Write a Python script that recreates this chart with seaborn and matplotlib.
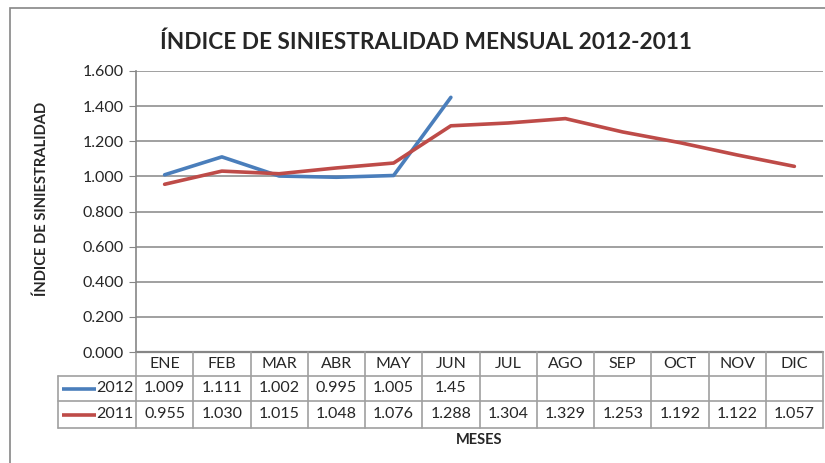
import numpy as np
import matplotlib
matplotlib.use("Agg")
import matplotlib.pyplot as plt
import matplotlib.transforms as mtransforms
from matplotlib.patches import Rectangle
import seaborn as sns
import pandas as pd

# ------------------------------------
# Data
# ------------------------------------
meses = ["ENE", "FEB", "MAR", "ABR", "MAY", "JUN",
         "JUL", "AGO", "SEP", "OCT", "NOV", "DIC"]
valores_2012 = [1.009, 1.111, 1.002, 0.995, 1.005, 1.45]
valores_2011 = [0.955, 1.030, 1.015, 1.048, 1.076, 1.288,
                1.304, 1.329, 1.253, 1.192, 1.122, 1.057]
etiquetas_2012 = ["1.009", "1.111", "1.002", "0.995", "1.005", "1.45"]
y_ticks = [0.0, 0.2, 0.4, 0.6, 0.8, 1.0, 1.2, 1.4, 1.6]

BLUE = "#4A7EBB"
RED = "#BE4B48"
GRID = "#868686"

sns.set_style("white")
plt.rcParams["font.family"] = ["Lato", "DejaVu Sans"]

W, H = 825, 463
fig = plt.figure(figsize=(W / 100, H / 100), dpi=100)

# outer chart border
fig.patches.append(Rectangle((10 / W, -0.05), (W + 20) / W, 1 - 8 / H + 0.05,
                             transform=fig.transFigure, fill=False,
                             edgecolor=GRID, linewidth=1.2))

left, right, top, bottom = 136, 823, 71, 352
ax = fig.add_axes([left / W, 1 - bottom / H, (right - left) / W, (bottom - top) / H])

df = pd.DataFrame({
    "x": list(range(len(valores_2012))) + list(range(len(valores_2011))),
    "valor": valores_2012 + valores_2011,
    "serie": ["2012"] * len(valores_2012) + ["2011"] * len(valores_2011),
})
sns.lineplot(data=df, x="x", y="valor", hue="serie",
             palette={"2012": BLUE, "2011": RED}, linewidth=2.6,
             legend=False, ax=ax, zorder=3)

FS = 11.5
ph = bottom - top

ax.set_xlim(-0.5, len(meses) - 0.5)
ax.set_ylim(0, 1.6)
ax.set_yticks(y_ticks)
ax.set_yticklabels([f"{v:.3f}" for v in y_ticks], fontsize=FS)
ax.set_xticks([])
ax.set_xlabel("")
ax.set_ylabel("ÍNDICE DE SINIESTRALIDAD", fontsize=10.6, fontweight="bold")
ax.yaxis.set_label_coords((49 - left) / (right - left), (bottom - 199) / ph)
ax.yaxis.grid(True, color=GRID, linewidth=1.1)
for s in ["top", "right", "bottom"]:
    ax.spines[s].set_visible(False)
ax.spines["left"].set_color(GRID)
ax.spines["left"].set_linewidth(1.2)
ax.tick_params(axis="y", length=5, color=GRID, pad=4, left=True)

# ------------------------------------
# Data table below the axes
# ------------------------------------
rows = [0, -24 / ph, -49 / ph, -76 / ph]
tr = mtransforms.blended_transform_factory(ax.transData, ax.transAxes)
leg_x = -78 / (right - left)
n = len(meses)
lc = "#A0A0A0"
lw = 1.2

# horizontal lines
ax.plot([-0.5, n - 0.5], [rows[0]] * 2, transform=tr, color=GRID, lw=1.6, clip_on=False)
for r in rows[1:]:
    ax.plot([leg_x, 1], [r, r], transform=ax.transAxes, color=lc, lw=lw, clip_on=False)
# vertical lines
for i in range(n + 1):
    ax.plot([i - 0.5, i - 0.5], [rows[0], rows[3]], transform=tr, color=lc, lw=lw, clip_on=False)
ax.plot([leg_x, leg_x], [rows[1], rows[3]], transform=ax.transAxes, color=lc, lw=lw, clip_on=False)


def mid(a, b):
    return (a + b) / 2


for i, m in enumerate(meses):
    ax.text(i, mid(rows[0], rows[1]), m, transform=tr, ha="center", va="center", fontsize=FS)
for i, v in enumerate(etiquetas_2012):
    ax.text(i, mid(rows[1], rows[2]), v, transform=tr, ha="center", va="center", fontsize=FS)
for i, v in enumerate(valores_2011):
    ax.text(i, mid(rows[2], rows[3]), f"{v:.3f}", transform=tr, ha="center", va="center", fontsize=FS)

# legend keys inside table
for r0, r1, name, col in [(rows[1], rows[2], "2012", BLUE), (rows[2], rows[3], "2011", RED)]:
    ym = mid(r0, r1)
    ax.plot([leg_x + 0.006, leg_x + 0.055], [ym, ym], transform=ax.transAxes,
            color=col, lw=2.6, clip_on=False, solid_capstyle="butt")
    ax.text(-0.004, ym, name, transform=ax.transAxes, ha="right", va="center", fontsize=FS)

# axis title and chart title
fig.text((left + right) / 2 / W, 1 - 440 / H, "MESES", ha="center", va="center",
         fontsize=10.5, fontweight="bold")
fig.text(426 / W, 1 - 42 / H, "ÍNDICE DE SINIESTRALIDAD MENSUAL 2012-2011",
         ha="center", va="center", fontsize=16.3, fontweight="bold")

fig.savefig("out.png", dpi=100)
plt.close(fig)
